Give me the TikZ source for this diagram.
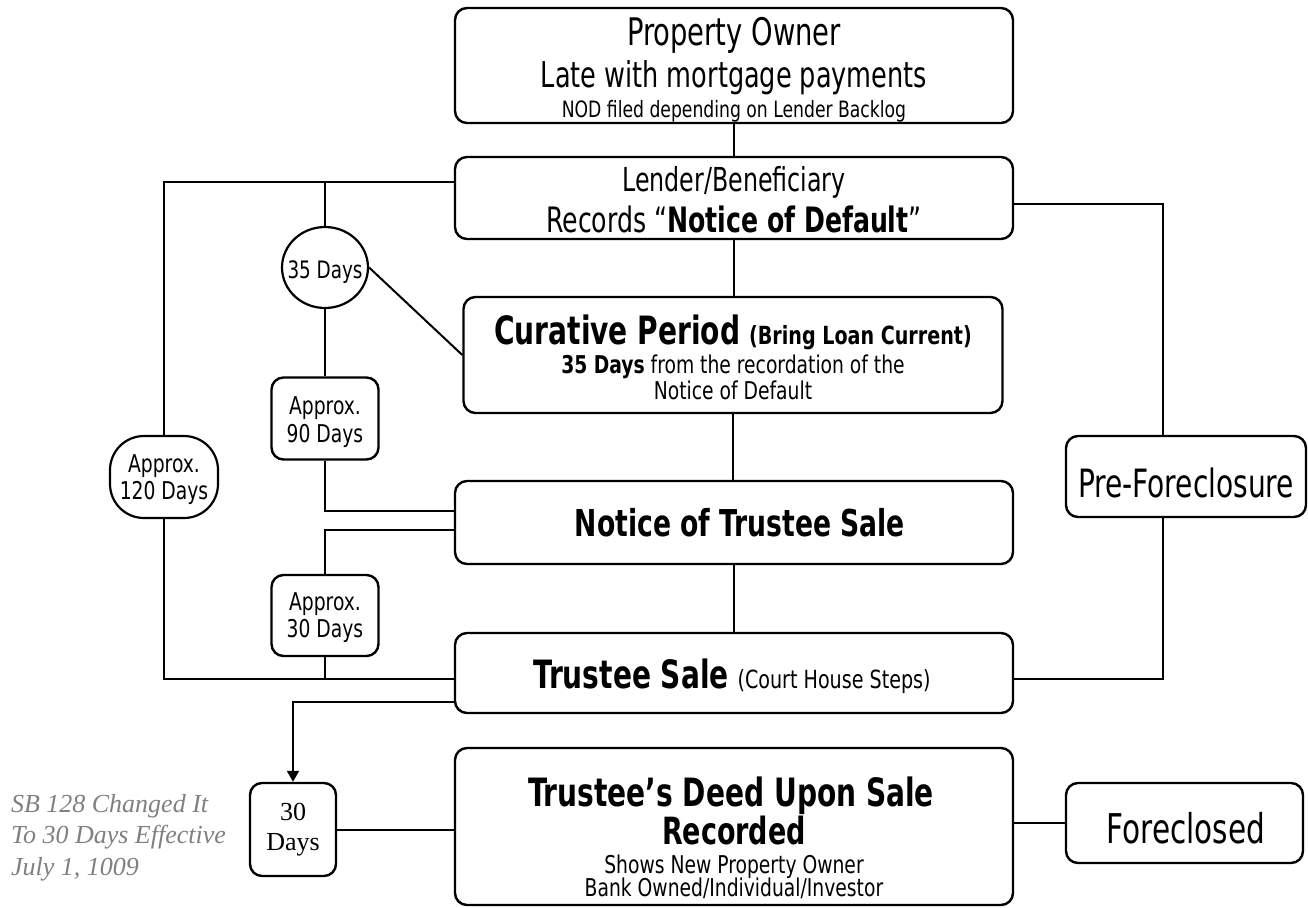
\documentclass[tikz,border=0pt]{standalone}
\usepackage{fontspec}
\setmainfont{DejaVu Sans Condensed}
\newfontfamily\fL[FakeStretch=0.8]{DejaVu Sans Condensed}
\newfontfamily\fS[FakeStretch=0.85]{DejaVu Sans Condensed}
\newfontfamily\tnr{Liberation Serif}
\usetikzlibrary{shapes.geometric,arrows.meta}
\definecolor{notegray}{RGB}{128,128,128}
\newcommand\sz[1]{\fontsize{#1}{#1}\selectfont}
\begin{document}
\begin{tikzpicture}[x=1pt,y=-1pt,line width=2pt,
  box/.style n args={2}{draw, line width=2.4pt, rounded corners=12pt, minimum width=#1, minimum height=#2, inner sep=0pt},
  oval/.style n args={2}{draw, line width=2.2pt, ellipse, minimum width=#1, minimum height=#2, inner sep=0pt},
  pill/.style n args={2}{draw, line width=2.2pt, rounded corners=34pt, minimum width=#1, minimum height=#2, inner sep=0pt},
  txt/.style={anchor=base, inner sep=0pt},
  tip/.style={-{Triangle[length=11pt,width=12pt]}}]
\useasboundingbox (0,0) rectangle (1308,907);

% boxes
\node[box={558}{115}] (owner) at (734,65.5) {};
\node[box={558}{82}] (lender) at (734,198) {};
\node[box={539}{116}] (cure) at (733,355) {};
\node[box={558}{83}] (nots) at (734,522.5) {};
\node[box={558}{80}] (sale) at (734,673) {};
\node[box={558}{157}] (deed) at (734,826.5) {};
\node[box={240}{81}] (pre) at (1186,476.5) {};
\node[box={237}{80}] (fore) at (1184.5,823) {};
\node[oval={86}{81}] (d35) at (325,267.5) {};
\node[box={107}{82}] (a90) at (325,418.5) {};
\node[box={107}{81}] (a30) at (325,615.5) {};
\node[pill={108}{82}] (a120) at (164,477) {};
\node[box={86}{93}] (d30) at (293,829.5) {};

% texts
\node[txt, font=\fL\sz{38}] (ownerA) at (734,46) {Property Owner};
\node[txt, font=\fL\sz{35.5}] (ownerB) at (734,87) {Late with mortgage payments};
\node[txt, font=\fS\sz{22.5}] (ownerC) at (734,117) {NOD filed depending on Lender Backlog};
\node[txt, font=\fL\sz{33}] (lenderA) at (734,191) {Lender/Beneficiary};
\node[txt, font=\fL\sz{35}] (lenderB) at (734,232) {Records “\textbf{Notice of Default}”};
\node[txt, font=\fL\sz{39}] (cureA) at (733,344) {\textbf{Curative Period} {\fS\sz{25}\textbf{(Bring Loan Current)}}};
\node[txt, font=\fS\sz{24.5}] (cureB) at (733,373) {\textbf{35 Days} from the recordation of the};
\node[txt, font=\fS\sz{24.5}] (cureC) at (733,399) {Notice of Default};
\node[txt, font=\fL\sz{37}] (notsA) at (740,536) {\textbf{Notice of Trustee Sale}};
\node[txt, font=\fL\sz{39}] (saleA) at (732,688) {\textbf{Trustee Sale} {\fS\sz{25}(Court House Steps)}};
\node[txt, font=\fL\sz{39}] (deedA) at (731,806) {\textbf{Trustee’s Deed Upon Sale}};
\node[txt, font=\fL\sz{37.5}] (deedB) at (734,844) {\textbf{Recorded}};
\node[txt, font=\fS\sz{24.5}] (deedC) at (734,873) {Shows New Property Owner};
\node[txt, font=\fS\sz{24.5}] (deedD) at (734,896) {Bank Owned/Individual/Investor};
\node[txt, font=\fL\sz{39}] (preA) at (1186,497) {Pre-Foreclosure};
\node[txt, font=\fL\sz{41}] (foreA) at (1186,843) {Foreclosed};
\node[txt, font=\fS\sz{24}] (d35A) at (325,278) {35 Days};
\node[txt, font=\fS\sz{24.5}] (a90A) at (325,414) {Approx.};
\node[txt, font=\fS\sz{24.5}] (a90B) at (325,442) {90 Days};
\node[txt, font=\fS\sz{24.5}] (a30A) at (325,610) {Approx.};
\node[txt, font=\fS\sz{24.5}] (a30B) at (325,637) {30 Days};
\node[txt, font=\fS\sz{24.5}] (a120A) at (164,472) {Approx.};
\node[txt, font=\fS\sz{24.5}] (a120B) at (164,499) {120 Days};
\node[txt, font=\tnr\sz{26}] (d30A) at (293,820) {30};
\node[txt, font=\tnr\sz{26}] (d30B) at (293,850) {Days};
\node[txt, anchor=base west, text=notegray, font=\tnr\itshape\sz{26}] (noteA) at (10,812) {SB 128 Changed It};
\node[txt, anchor=base west, text=notegray, font=\tnr\itshape\sz{26}] (noteB) at (10,843) {To 30 Days Effective};
\node[txt, anchor=base west, text=notegray, font=\tnr\itshape\sz{26}] (noteC) at (10,875) {July 1, 1009};

% junction points
\coordinate (tl) at (164,182);
\coordinate (bl) at (164,679);
\coordinate (m35) at (325,182);
\coordinate (k90) at (325,511);
\coordinate (k30) at (325,530);
\coordinate (j30) at (325,679);
\coordinate (ar) at (293,702);
\coordinate (tr) at (1163,204);
\coordinate (br) at (1163,679);

% connectors
\draw (owner.south) -- (owner.south |- lender.north);
\draw (lender.south) -- (lender.south |- cure.north);
\draw (cure.south) -- (cure.south |- nots.north);
\draw (nots.south) -- (nots.south |- sale.north);
\draw (lender.west |- tl) -- (tl) -- (a120.north);
\draw (a120.south) -- (bl) -- (sale.west |- bl);
\draw (m35) -- (d35.north);
\draw (d35.south) -- (a90.north);
\draw (d35.east) -- (cure.west);
\draw (a90.south) -- (k90) -- (nots.west |- k90);
\draw (nots.west |- k30) -- (k30) -- (a30.north);
\draw (a30.south) -- (j30);
\draw[tip] (sale.west |- ar) -- (ar) -- (d30.north);
\draw (d30.east) -- (deed.west |- d30.east);
\draw (deed.east |- fore.west) -- (fore.west);
\draw (lender.east |- tr) -- (tr) -- (pre.north -| tr);
\draw (pre.south -| tr) -- (br) -- (sale.east |- br);
\end{tikzpicture}
\end{document}
